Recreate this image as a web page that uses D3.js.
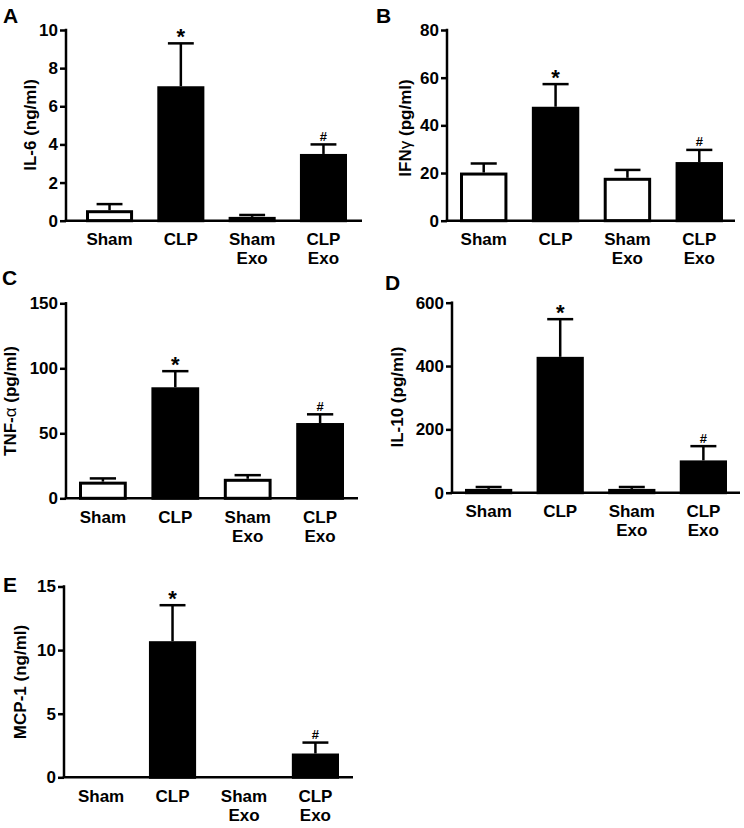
<!DOCTYPE html>
<html><head><meta charset="utf-8">
<script src="https://cdnjs.cloudflare.com/ajax/libs/d3/7.8.5/d3.min.js"></script>
<style>
html,body{margin:0;padding:0;background:#fff;}
svg{display:block;font-family:Arial,"Liberation Sans",Helvetica,sans-serif;font-weight:bold;}
</style></head>
<body>
<svg id="chart" width="744" height="828"></svg>
<script>
// ---- data ----
const categories = [["Sham"], ["CLP"], ["Sham", "Exo"], ["CLP", "Exo"]];
const fills = ["white", "black", "white", "black"];

const il6Mean = [0.55, 7.05, 0.2, 3.5];
const il6Err  = [0.87, 9.3, 0.3, 4.0];
const il6Ticks = [0, 2, 4, 6, 8, 10];

const ifngMean = [20.2, 47.8, 18.0, 24.6];
const ifngErr  = [24.0, 57.3, 21.3, 29.7];
const ifngTicks = [0, 20, 40, 60, 80];

const tnfMean = [12.8, 85.4, 15.0, 57.9];
const tnfErr  = [15.3, 97.8, 17.8, 64.6];
const tnfTicks = [0, 50, 100, 150];

const il10Mean = [12, 429, 12, 102];
const il10Err  = [18, 548, 18, 147];
const il10Ticks = [0, 200, 400, 600];

const mcpMean = [0, 10.7, 0, 1.87];
const mcpErr  = [0, 13.53, 0, 2.73];
const mcpTicks = [0, 5, 10, 15];

const marks = ["", "*", "", "#"];

const panels = [
  {letter:"A", title:[["IL-6 (ng/ml)", "b"]], mean:il6Mean, err:il6Err, ticks:il6Ticks},
  {letter:"B", title:[["IFN","b"],["γ","n"],[" (pg/ml)","b"]], mean:ifngMean, err:ifngErr, ticks:ifngTicks},
  {letter:"C", title:[["TNF-","b"],["α","n"],[" (pg/ml)","b"]], mean:tnfMean, err:tnfErr, ticks:tnfTicks},
  {letter:"D", title:[["IL-10 (pg/ml)","b"]], mean:il10Mean, err:il10Err, ticks:il10Ticks},
  {letter:"E", title:[["MCP-1 (ng/ml)","b"]], mean:mcpMean, err:mcpErr, ticks:mcpTicks}
];

// ---- layout ----
const layout = [
  {lx:3,   ly:23,  ax:66,  yTop:30,    y0:220.7, xEnd:362, b0:86,   b1:347, tx:36,  tc:125},
  {lx:376, ly:23,  ax:447, yTop:30,    y0:220.7, xEnd:735, b0:460,  b1:723, tx:411, tc:128},
  {lx:2,   ly:285, ax:66,  yTop:303.3, y0:498.3, xEnd:358, b0:79,   b1:344, tx:16,  tc:401},
  {lx:385, ly:290, ax:452, yTop:302.7, y0:492.7, xEnd:740, b0:465,  b1:727, tx:403, tc:397},
  {lx:3,   ly:592, ax:64,  yTop:586.5, y0:777.3, xEnd:353, b0:77.5, b1:339, tx:26,  tc:682}
];

const svg = d3.select("#chart");

panels.forEach((p, i) => {
  const L = layout[i];
  const g = svg.append("g");
  const ymax = p.ticks[p.ticks.length - 1];
  const y = d3.scaleLinear().domain([0, ymax]).range([L.y0, L.yTop]);
  const x = d3.scaleBand().domain(d3.range(categories.length))
    .range([L.b0, L.b1]).paddingInner(0.34).paddingOuter(0);
  const bw = x.bandwidth();

  // panel letter
  g.append("text").attr("x", L.lx).attr("y", L.ly)
    .attr("font-size", 21).attr("font-weight", "bold").text(p.letter);

  // y axis
  const yAxis = d3.axisLeft(y).tickValues(p.ticks).tickSize(6).tickPadding(2)
    .tickFormat(d3.format("d"));
  const ya = g.append("g").attr("transform", `translate(${L.ax},0)`).call(yAxis);
  ya.select(".domain").remove();
  ya.selectAll(".tick line").attr("stroke", "#000").attr("stroke-width", 2.5);
  ya.selectAll(".tick text").attr("font-size", 17).attr("font-weight", "bold")
    .attr("fill", "#000").attr("font-family", "Arial, 'Liberation Sans', sans-serif");
  g.append("line").attr("x1", L.ax).attr("x2", L.ax)
    .attr("y1", y(ymax) - 1.25).attr("y2", y(0))
    .attr("stroke", "#000").attr("stroke-width", 2.5);

  // error bars
  const idx = d3.range(categories.length);
  const withErr = idx.filter(k => p.err[k] > p.mean[k]);
  g.selectAll(".errv").data(withErr).join("line")
    .attr("x1", k => x(k) + bw / 2).attr("x2", k => x(k) + bw / 2)
    .attr("y1", k => y(p.mean[k])).attr("y2", k => y(p.err[k]))
    .attr("stroke", "#000").attr("stroke-width", 2.5);
  const capW = bw * 0.55;
  g.selectAll(".errc").data(withErr).join("line")
    .attr("x1", k => x(k) + bw / 2 - capW / 2).attr("x2", k => x(k) + bw / 2 + capW / 2)
    .attr("y1", k => y(p.err[k])).attr("y2", k => y(p.err[k]))
    .attr("stroke", "#000").attr("stroke-width", 2.5);

  // bars
  g.selectAll(".bar").data(idx.filter(k => p.mean[k] > 0)).join("rect")
    .attr("x", k => x(k) + 1.5).attr("width", bw - 3)
    .attr("y", k => y(p.mean[k]) + 1.5)
    .attr("height", k => Math.max(0, y(0) - y(p.mean[k]) - 1.5))
    .attr("fill", k => fills[k]).attr("stroke", "#000").attr("stroke-width", 3);

  // x axis line
  g.append("line").attr("x1", L.ax - 1.25).attr("x2", L.xEnd)
    .attr("y1", L.y0).attr("y2", L.y0)
    .attr("stroke", "#000").attr("stroke-width", 2.5);

  // category labels
  idx.forEach(k => {
    categories[k].forEach((s, j) => {
      g.append("text").attr("x", x(k) + bw / 2).attr("y", L.y0 + 24.5 + j * 19)
        .attr("text-anchor", "middle").attr("font-size", 17).attr("font-weight", "bold")
        .text(s);
    });
  });

  // significance marks
  idx.filter(k => marks[k] !== "").forEach(k => {
    const isStar = marks[k] === "*";
    g.append("text").attr("x", x(k) + bw / 2)
      .attr("y", isStar ? y(p.err[k]) + 1 : y(p.err[k]) - 3.5)
      .attr("text-anchor", "middle")
      .attr("font-size", isStar ? 22 : 13).attr("font-weight", "bold")
      .text(marks[k]);
  });

  // y title
  const tt = g.append("text")
    .attr("transform", `translate(${L.tx},${L.tc}) rotate(-90)`)
    .attr("text-anchor", "middle").attr("font-size", 17);
  p.title.forEach(([s, w]) => {
    tt.append("tspan").attr("font-weight", w === "b" ? "bold" : "normal").text(s);
  });
});
</script>
</body></html>
